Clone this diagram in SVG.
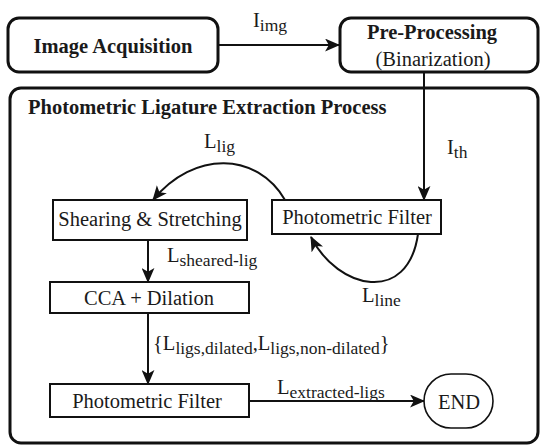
<svg xmlns="http://www.w3.org/2000/svg" width="543" height="447" viewBox="0 0 543 447" font-family="'Liberation Serif', 'Times New Roman', serif">
<style>
text{font-family:'Liberation Serif','Times New Roman',serif;fill:#1a1a1a;font-size:20.5px}
.b{font-weight:bold}
.sub{font-size:17.5px}
.mid{text-anchor:middle}
.outer{fill:#fff;stroke:#111;stroke-width:3}
.inner{fill:#fff;stroke:#111;stroke-width:2}
.end{fill:#fff;stroke:#111;stroke-width:1.6}
.conn path{fill:none;stroke:#111;stroke-width:2}
</style>
<defs>
<marker id="ah" viewBox="0 0 14 12" refX="13" refY="6" markerWidth="15" markerHeight="13" markerUnits="userSpaceOnUse" orient="auto">
<path d="M0,0 L14,6 L0,12 L3.5,6 z" fill="#111"/>
</marker>
</defs>
<rect width="543" height="447" fill="#fff"/>
<g id="process">
<rect class="outer" x="10" y="88" width="528" height="355" rx="11"/>
<text class="b" x="28" y="114">Photometric Ligature Extraction Process</text>
</g>
<g id="acq">
<rect class="outer" x="8" y="18" width="210" height="54" rx="11"/>
<text class="b mid" x="113" y="53">Image Acquisition</text>
</g>
<g id="pre">
<rect class="outer" x="340" y="18" width="198" height="54" rx="11"/>
<text class="b mid" x="432" y="39">Pre-Processing</text>
<text class="mid" x="433" y="66">(Binarization)</text>
</g>
<g id="pf1">
<rect class="inner" x="272" y="200" width="169" height="34"/>
<text class="mid" x="357" y="224">Photometric Filter</text>
</g>
<g id="shear">
<rect class="inner" x="53" y="200" width="194" height="40"/>
<text class="mid" x="150" y="226">Shearing &amp; Stretching</text>
</g>
<g id="cca">
<rect class="inner" x="50" y="282" width="199" height="31"/>
<text class="mid" x="149" y="305">CCA + Dilation</text>
</g>
<g id="pf2">
<rect class="inner" x="50" y="384" width="199" height="33"/>
<text class="mid" x="147" y="408">Photometric Filter</text>
</g>
<g id="end">
<rect class="end" x="424" y="374" width="69" height="54" rx="27"/>
<text class="mid" x="459" y="409">END</text>
</g>
<g class="conn" id="connectors">
<path d="M218,45 L339,45" marker-end="url(#ah)"/>
<path d="M424,72 L424,200" marker-end="url(#ah)"/>
<path d="M285,200 C257,152 194,150 153,200" marker-end="url(#ah)"/>
<path d="M418,234 C408,305 338,290 311,237" marker-end="url(#ah)"/>
<path d="M148,240 L148,282" marker-end="url(#ah)"/>
<path d="M148,313 L148,384" marker-end="url(#ah)"/>
<path d="M249,401 L424,401" marker-end="url(#ah)"/>
</g>
<g id="labels">
<text x="253" y="27">I<tspan class="sub" dy="4">img</tspan></text>
<text x="447" y="154">I<tspan class="sub" dy="4">th</tspan></text>
<text x="204" y="148">L<tspan class="sub" dy="4">lig</tspan></text>
<text x="167" y="262">L<tspan class="sub" dy="4">sheared-lig</tspan></text>
<text x="362" y="302">L<tspan class="sub" dy="4">line</tspan></text>
<text x="153" y="350">{L<tspan class="sub" dy="4">ligs,dilated</tspan><tspan dy="-4">,L</tspan><tspan class="sub" dy="4">ligs,non-dilated</tspan><tspan dy="-4">}</tspan></text>
<text x="277" y="394">L<tspan class="sub" dy="4">extracted-ligs</tspan></text>
</g>
</svg>
